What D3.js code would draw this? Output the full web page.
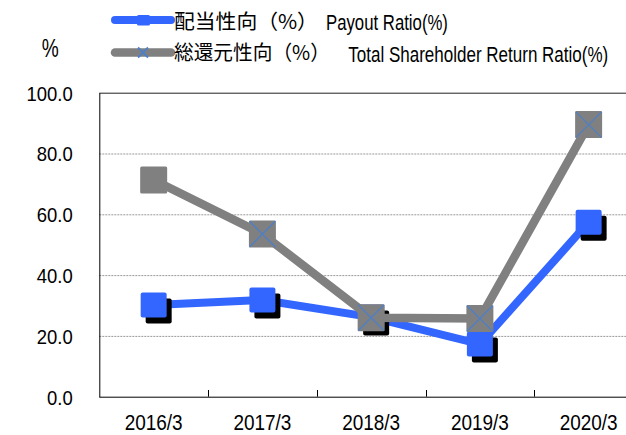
<html>
<head>
<script src="https://d3js.org/d3.v7.min.js"></script>
<style>
  body { margin: 0; background: white; }
  text { font-family: "Liberation Sans", Arial, sans-serif; fill: #000; }
  .cjk { font-family: "Noto Sans CJK JP", "Noto Sans CJK SC", sans-serif; }
</style>
</head>
<body>
<svg id="chart" width="626" height="435"></svg>
<script>
// data
const categories = ["2016/3", "2017/3", "2018/3", "2019/3", "2020/3"];
const payoutRatio = [30.2, 31.8, 26.2, 17.3, 57.4];
const totalReturnRatio = [71.3, 53.5, 26.0, 25.7, 89.5];
const yTicks = [0, 20, 40, 60, 80, 100];
const legendLabels = [
  { jp: "配当性向（%）", en: "Payout Ratio(%)" },
  { jp: "総還元性向（%）", en: "Total Shareholder Return Ratio(%)" }
];

const blue = "#3366ff";
const grey = "#808080";
const xMark = "#4f7fc4";

const svg = d3.select("#chart");

const x = d3.scaleBand().domain(categories).range([99.3, 643]);
const y = d3.scaleLinear().domain([0, 100]).range([396.7, 92.7]);
const cx = d => x(d) + x.bandwidth() / 2;

// squeeze a text element to a given width
function fitWidth(sel, w) {
  sel.attr("textLength", w).attr("lengthAdjust", "spacingAndGlyphs");
}
function condense(sel, k) {
  sel.each(function() {
    const n = this.getComputedTextLength();
    d3.select(this).attr("textLength", n * k).attr("lengthAdjust", "spacingAndGlyphs");
  });
}
// place a text at (px,py) and stretch it horizontally to width w
function placeScaled(sel, px, py, w) {
  sel.each(function() {
    const n = this.getComputedTextLength();
    d3.select(this).attr("x", 0).attr("y", 0)
      .attr("transform", `translate(${px},${py}) scale(${w / n},1)`);
  });
}

// gridlines
svg.append("g").selectAll("line").data(yTicks.filter(d => d > 0))
  .join("line")
  .attr("x1", 99.3).attr("x2", 626)
  .attr("y1", d => y(d) + 0.5).attr("y2", d => y(d) + 0.5)
  .attr("stroke", d => d === 100 ? "#222" : "#999")
  .attr("stroke-width", 1)
  .attr("stroke-dasharray", d => d === 100 ? null : "2,1");

// y axis
const yAxis = svg.append("g")
  .attr("transform", "translate(99.3,0)")
  .call(d3.axisLeft(y).tickValues(yTicks).tickFormat(d3.format(".1f")).tickSize(0).tickPadding(26.6));
yAxis.select(".domain").attr("stroke", "#000");
yAxis.selectAll("text").style("font-size", "20.5px").attr("dy", "0.36em").call(condense, 0.9);

// x axis
const xAxis = svg.append("g")
  .attr("transform", "translate(0,396.7)")
  .call(d3.axisBottom(x).tickSize(0).tickPadding(18));
xAxis.select(".domain").attr("d", "M99.3,0.5H626").attr("stroke", "#000");
xAxis.selectAll("text").style("font-size", "21.5px").call(fitWidth, 58);

// inner tick marks between categories
svg.append("g").selectAll("line").data(categories.slice(1))
  .join("line")
  .attr("x1", d => Math.round(x(d)) + 0.5).attr("x2", d => Math.round(x(d)) + 0.5)
  .attr("y1", 390).attr("y2", 396.7)
  .attr("stroke", "#000");

svg.append("text")
  .style("font-size", "25px")
  .text("%")
  .call(placeScaled, 41.7, 57, 17);

const line = d3.line().x((d, i) => cx(categories[i])).y(d => y(d));

// payout ratio series
svg.append("path")
  .datum(payoutRatio)
  .attr("d", line)
  .attr("fill", "none")
  .attr("stroke", blue)
  .attr("stroke-width", 8);

svg.append("g").selectAll("rect").data(payoutRatio)
  .join("rect")
  .attr("x", (d, i) => cx(categories[i]) - 13 + 5)
  .attr("y", d => y(d) - 12.5 + 6)
  .attr("width", 26).attr("height", 25)
  .attr("rx", 2)
  .attr("fill", "#000");

svg.append("g").selectAll("rect").data(payoutRatio)
  .join("rect")
  .attr("x", (d, i) => cx(categories[i]) - 13)
  .attr("y", d => y(d) - 12.5)
  .attr("width", 26).attr("height", 25)
  .attr("rx", 2)
  .attr("fill", blue);

// total shareholder return ratio series
svg.append("path")
  .datum(totalReturnRatio)
  .attr("d", line)
  .attr("fill", "none")
  .attr("stroke", grey)
  .attr("stroke-width", 8.5);

const totalMarks = svg.append("g").selectAll("g").data(totalReturnRatio)
  .join("g")
  .attr("transform", (d, i) => `translate(${cx(categories[i])},${y(d)})`);

totalMarks.append("rect")
  .attr("x", -13.5).attr("y", -13.5)
  .attr("width", 27).attr("height", 27)
  .attr("rx", 1.5)
  .attr("fill", grey);

totalMarks.filter((d, i) => i > 0).append("path")
  .attr("d", "M-13,-13L13,13M13,-13L-13,13")
  .attr("stroke", xMark)
  .attr("stroke-width", 1.4);

// legend
const legend = svg.append("g");

legend.append("line")
  .attr("x1", 115).attr("x2", 171).attr("y1", 20).attr("y2", 20)
  .attr("stroke", blue).attr("stroke-width", 8).attr("stroke-linecap", "round");
legend.append("rect")
  .attr("x", 137).attr("y", 15).attr("width", 13).attr("height", 10.5).attr("rx", 1.5)
  .attr("fill", blue);

legend.append("line")
  .attr("x1", 115).attr("x2", 171).attr("y1", 52.5).attr("y2", 52.5)
  .attr("stroke", grey).attr("stroke-width", 8.5).attr("stroke-linecap", "round");
legend.append("path")
  .attr("d", "M138,47.5L148,57.5M148,47.5L138,57.5")
  .attr("stroke", xMark).attr("stroke-width", 2);

const legendPos = [
  { jx: 174, jy: 28.5, jw: 144, ex: 326, ey: 30, ew: 122 },
  { jx: 174, jy: 60, jw: 156, ex: 348.3, ey: 62, ew: 260 }
];

legendLabels.forEach((d, i) => {
  const p = legendPos[i];
  legend.append("text")
    .attr("class", "cjk")
    .style("font-size", "20.5px")
    .text(d.jp)
    .call(placeScaled, p.jx, p.jy, p.jw);
  legend.append("text")
    .style("font-size", "22px")
    .text(d.en)
    .call(placeScaled, p.ex, p.ey, p.ew);
});
</script>
</body>
</html>
